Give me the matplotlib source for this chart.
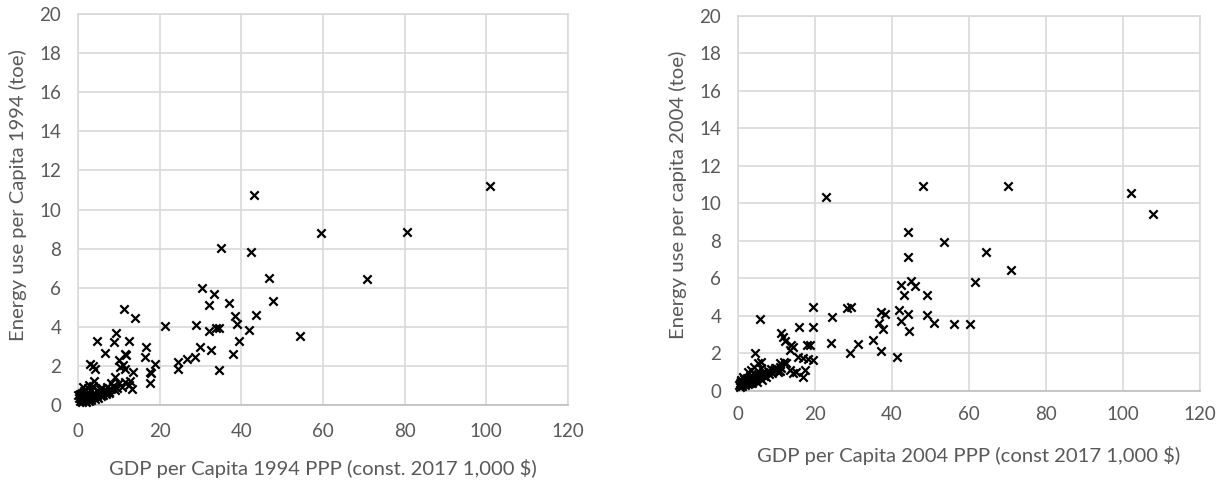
import matplotlib.pyplot as plt

plt.rcParams["font.family"] = ["Lato", "DejaVu Sans"]

# 1994: GDP per capita (1,000 $) and energy use per capita (toe)
gdp_1994 = [
    101.0, 43.1, 59.6, 80.5, 70.7, 35.1, 42.5, 46.9, 30.4, 33.2,
    32.1, 37.0, 47.8, 11.3, 14.0, 38.4, 43.7, 39.0, 21.4, 28.8,
    33.9, 34.5, 32.1, 42.0, 54.3, 4.65, 9.2, 8.9, 12.6, 16.6,
    6.6, 11.4, 11.8, 16.4, 10.0, 18.9, 3.0, 3.6, 4.2, 11.1,
    10.3, 11.6, 13.6, 17.7, 17.9, 17.6, 24.6, 24.6, 26.8, 28.6,
    29.9, 32.7, 34.6, 37.9, 39.5, 4.0, 9.1, 8.2, 10.0, 10.8,
    11.6, 12.4, 13.2, 9.1, 7.5, 12.8,
    0.3, 0.5, 0.6, 0.8, 0.9, 1.0, 1.1, 1.2, 1.4, 1.5,
    1.6, 1.8, 1.9, 2.0, 2.2, 2.3, 2.5, 2.6, 2.8, 3.0,
    3.1, 3.3, 3.5, 3.7, 3.9, 4.1, 4.3, 4.6, 4.8, 5.0,
    5.3, 5.6, 5.9, 6.2, 6.5, 6.8, 7.2, 7.6, 0.4, 1.3,
    2.4, 2.7, 3.6, 5.5, 6.0, 7.0, 8.0, 8.7, 9.5, 0.0,
]
energy_1994 = [
    11.22, 10.74, 8.8, 8.86, 6.44, 8.01, 7.8, 6.5, 6.0, 5.68,
    5.12, 5.19, 5.32, 4.88, 4.45, 4.54, 4.59, 4.14, 4.03, 4.08,
    3.94, 3.9, 3.77, 3.8, 3.53, 3.26, 3.65, 3.19, 3.26, 2.97,
    2.64, 2.57, 2.55, 2.45, 2.28, 2.08, 2.1, 1.95, 1.8, 2.01,
    1.9, 1.8, 1.65, 1.65, 1.6, 1.12, 2.2, 1.8, 2.32, 2.45,
    2.97, 2.8, 1.77, 2.59, 3.27, 1.2, 1.43, 1.09, 1.09, 0.91,
    1.17, 1.0, 0.78, 0.74, 0.66, 1.2,
    0.35, 0.2, 0.5, 0.3, 0.15, 0.45, 0.6, 0.25, 0.4, 0.7,
    0.2, 0.5, 0.35, 0.15, 0.6, 0.3, 0.45, 0.2, 0.55, 0.35,
    0.75, 0.25, 0.5, 0.4, 0.6, 0.3, 0.5, 0.45, 0.65, 0.35,
    0.55, 0.45, 0.6, 0.5, 0.7, 0.55, 0.65, 0.6, 0.55, 0.9,
    0.85, 1.0, 0.95, 0.8, 0.85, 0.9, 0.8, 0.95, 0.85, 0.5,
]

# 2004
gdp_2004 = [
    48.0, 70.1, 22.9, 102.0, 107.7, 44.2, 53.4, 44.2, 64.4, 70.9,
    42.3, 44.9, 46.0, 61.5, 43.0, 49.2, 5.7, 19.6, 28.2, 29.3,
    24.4, 37.1, 38.2, 41.9, 44.2, 49.2, 42.3, 36.7, 50.9, 56.0,
    60.3, 15.8, 19.6, 37.7, 44.4, 11.3, 11.6, 12.2, 13.9, 13.5,
    18.0, 18.8, 24.2, 31.3, 35.0, 37.1, 29.1, 41.4, 4.3, 6.1,
    14.4, 15.7, 17.0, 18.3, 19.6, 12.0, 12.6, 5.3, 10.9, 6.1,
    9.6, 10.9, 13.5, 14.4, 15.2, 17.4, 17.0,
    0.3, 0.5, 0.6, 0.8, 1.0, 1.1, 1.3, 1.5, 1.6, 1.8,
    2.0, 2.2, 2.4, 2.6, 2.8, 3.0, 3.2, 3.4, 3.6, 3.8,
    4.0, 4.3, 4.5, 4.8, 5.0, 5.3, 5.6, 5.9, 6.2, 6.5,
    6.8, 7.1, 7.4, 7.8, 8.1, 8.5, 8.9, 9.3, 9.8, 10.3,
    10.8, 11.3, 1.2, 2.5, 3.5, 0.7, 4.2,
]
energy_2004 = [
    10.93, 10.94, 10.36, 10.58, 9.44, 8.5, 7.94, 7.16, 7.43, 6.43,
    5.65, 5.88, 5.6, 5.8, 5.1, 5.1, 3.86, 4.5, 4.41, 4.5,
    3.93, 4.23, 4.11, 4.32, 4.11, 4.05, 3.75, 3.61, 3.61, 3.56,
    3.56, 3.43, 3.43, 3.3, 3.2, 3.08, 2.86, 2.69, 2.45, 2.19,
    2.45, 2.45, 2.58, 2.49, 2.72, 2.15, 2.04, 1.83, 2.01, 1.56,
    2.36, 1.83, 1.78, 1.71, 1.65, 1.56, 1.48, 1.48, 1.48, 1.21,
    1.21, 1.07, 1.12, 0.94, 1.03, 1.12, 0.76,
    0.3, 0.45, 0.2, 0.55, 0.35, 0.25, 0.5, 0.4, 0.65, 0.3,
    0.5, 0.4, 0.7, 0.35, 0.55, 0.45, 0.8, 0.6, 0.4, 0.7,
    0.55, 0.85, 0.6, 0.75, 0.5, 0.9, 0.7, 0.85, 0.6, 1.0,
    0.8, 0.95, 0.75, 1.05, 0.9, 1.15, 0.95, 1.1, 1.25, 1.0,
    1.3, 1.2, 0.75, 1.0, 1.1, 0.6, 1.3,
]

GRID = "#d9d9d9"
TEXT = "#595959"

fig = plt.figure(figsize=(12.24, 4.83), dpi=100)

panels = [
    ([0.0637, 0.1625, 0.4003, 0.8075], gdp_1994, energy_1994,
     "GDP per Capita 1994 PPP (const. 2017 1,000 $)",
     "Energy use per Capita 1994 (toe)", -0.163, -0.1224, 0.537, 13),
    ([0.6029, 0.1905, 0.3775, 0.7764], gdp_2004, energy_2004,
     "GDP per Capita 2004 PPP (const 2017 1,000 $)",
     "Energy use per capita 2004 (toe)", -0.171, -0.13, 0.523, 11),
]

for rect, xs, ys, xlab, ylab, xl_y, yl_x, yl_y, xpad in panels:
    ax = fig.add_axes(rect)
    ax.scatter(xs, ys, marker="x", color="black", s=36, linewidths=1.6,
               zorder=3, clip_on=False)
    ax.set_xlim(0, 120)
    ax.set_ylim(0, 20)
    ax.set_xticks(range(0, 121, 20))
    ax.set_yticks(range(0, 21, 2))
    ax.grid(True, color=GRID, linewidth=1.2, zorder=0)
    for side in ["top", "right", "left"]:
        ax.spines[side].set_color(GRID)
        ax.spines[side].set_linewidth(1.2)
    ax.spines["bottom"].set_color("#bfbfbf")
    ax.spines["bottom"].set_linewidth(1.2)
    ax.tick_params(axis="both", length=0, labelsize=13.5, labelcolor=TEXT)
    ax.tick_params(axis="x", pad=xpad)
    ax.tick_params(axis="y", pad=12)
    ax.set_xlabel(xlab, fontsize=14.6, color=TEXT)
    ax.set_ylabel(ylab, fontsize=14.6, color=TEXT)
    ax.xaxis.set_label_coords(0.5, xl_y)
    ax.xaxis.label.set_va("center")
    ax.yaxis.set_label_coords(yl_x, yl_y)
    ax.yaxis.label.set_va("center")

fig.savefig("out.png", dpi=100)
